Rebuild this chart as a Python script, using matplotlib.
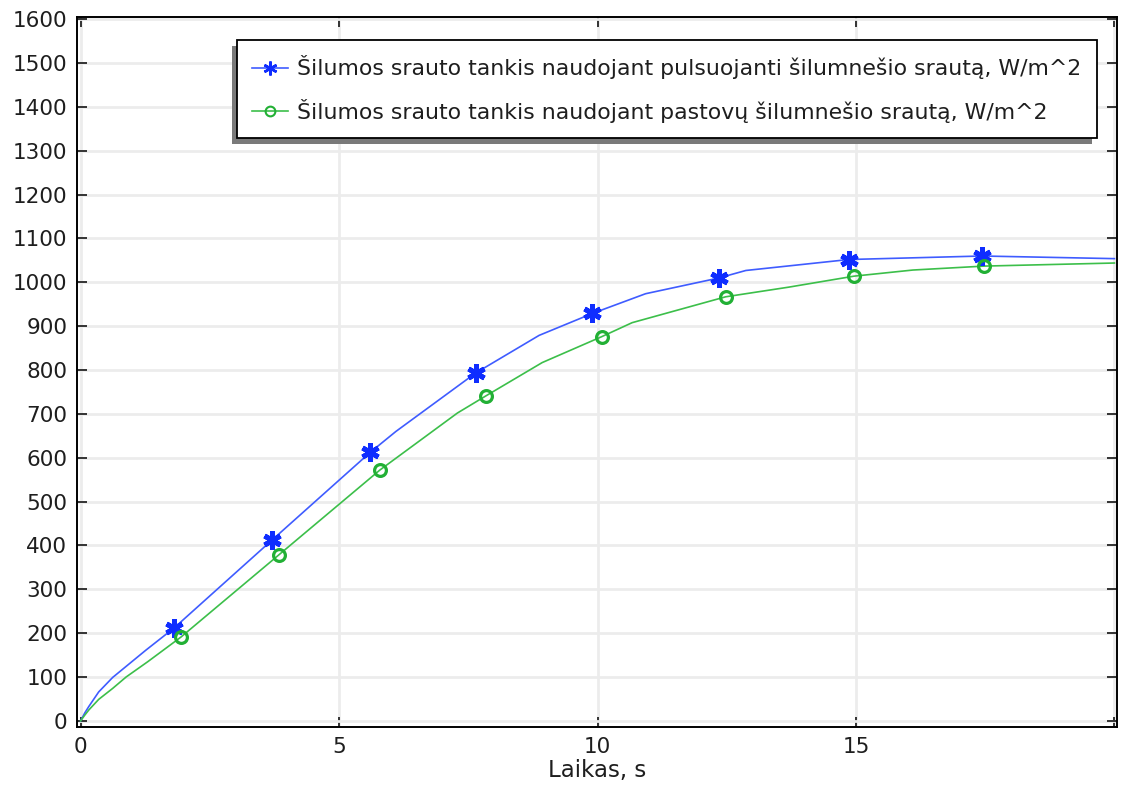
import matplotlib
matplotlib.use("Agg")
import matplotlib.pyplot as plt
from matplotlib.lines import Line2D
from matplotlib.patches import Rectangle
from matplotlib.transforms import IdentityTransform

# pulsating flow: line samples and marker positions
t_pulse = [0, 0.08, 0.16, 0.35, 0.62, 1.26, 1.81, 3.71, 5.6, 6.1, 7.64, 8.87,
           9.9, 10.93, 12.35, 12.87, 14.86, 17.44, 20.0]
q_pulse = [0, 18, 33, 66, 99, 161, 212, 413, 612, 660, 793, 879,
           929, 974, 1010, 1027, 1052, 1060, 1054]
t_pulse_marks = [1.81, 3.71, 5.6, 7.64, 9.9, 12.35, 14.86, 17.44]
q_pulse_marks = [212, 413, 612, 793, 929, 1010, 1052, 1060]

# constant flow
t_const = [0, 0.08, 0.16, 0.35, 0.62, 0.88, 1.3, 1.94, 3.84, 5.79, 7.29, 7.84,
           8.93, 10.08, 10.67, 12.48, 13.7, 14.96, 16.1, 17.48, 20.0]
q_const = [0, 13, 25, 49, 74, 100, 135, 191, 379, 572, 702, 741,
           817, 876, 908, 967, 989, 1014, 1028, 1037, 1044]
t_const_marks = [1.94, 3.84, 5.79, 7.84, 10.08, 12.48, 14.96, 17.48]
q_const_marks = [191, 379, 572, 741, 876, 967, 1014, 1037]

label_pulse = "Šilumos srauto tankis naudojant pulsuojanti šilumnešio srautą, W/m^2"
label_const = "Šilumos srauto tankis naudojant pastovų šilumnešio srautą, W/m^2"
x_ticks = [0, 5, 10, 15, 20]
x_tick_labels = ["0", "5", "10", "15", ""]
y_ticks = list(range(0, 1700, 100))

BLUE_LINE = "#3f5cff"
BLUE_MARK = "#0f2dff"
GREEN_LINE = "#3cbf4a"
GREEN_MARK = "#22b035"
TEXT = "#1e1e1e"

plt.rcParams["font.family"] = ["DejaVu Sans"]
plt.rcParams["font.size"] = 15.5

fig = plt.figure(figsize=(11.23, 7.91), dpi=100)
ax = fig.add_axes([77 / 1123, 1 - 727 / 791, 1040 / 1123, 710 / 791])

ax.plot(t_pulse, q_pulse, color=BLUE_LINE, lw=1.2, zorder=3)
ax.plot(t_pulse_marks, q_pulse_marks, ls="none", marker=(6, 2, 0), ms=13,
        mew=3.6, color=BLUE_MARK, zorder=4)
ax.plot(t_const, q_const, color=GREEN_LINE, lw=1.2, zorder=3)
ax.plot(t_const_marks, q_const_marks, ls="none", marker="o", ms=8.5,
        mew=2.3, mfc="none", mec=GREEN_MARK, zorder=4)

ax.set_xlim(-0.07, 20.05)
ax.set_ylim(-14, 1605)
ax.set_xticks(x_ticks)
ax.set_xticklabels(x_tick_labels)
ax.set_yticks(y_ticks)
ax.grid(True, color="#ececec", lw=2.0, zorder=0)
ax.set_axisbelow(True)
ax.tick_params(direction="in", length=7, width=1.1, top=True, right=True,
               colors="black", labelcolor=TEXT, pad=7)
for sp in ax.spines.values():
    sp.set_linewidth(1.4)
ax.set_xlabel("Laikas, s", color=TEXT, fontsize=16.5, labelpad=2)

handles = [
    Line2D([], [], color=BLUE_LINE, lw=1.2, marker=(6, 2, 0), ms=10, mew=1.8,
           mec=BLUE_MARK),
    Line2D([], [], color=GREEN_LINE, lw=1.2, marker="o", ms=7, mew=1.5,
           mfc="none", mec=GREEN_MARK),
]
leg = ax.legend(handles, [label_pulse, label_const], loc="upper right",
                bbox_to_anchor=(0.9808, 0.9676), fancybox=False, framealpha=1,
                edgecolor="black", borderpad=0.7, labelspacing=0.88,
                handlelength=1.6, handletextpad=0.45, borderaxespad=0,
                fontsize=15.8)
leg.get_frame().set_linewidth(1.3)
for txt in leg.get_texts():
    txt.set_color(TEXT)
leg.set_zorder(6)

# offset drop shadow (down-left), as in the original
fig.canvas.draw()
bb = leg.get_window_extent()
shadow = Rectangle((bb.x0 - 5, bb.y0 - 6), bb.width, bb.height,
                   transform=IdentityTransform(), facecolor="#7a7a7a",
                   edgecolor="none", zorder=5, clip_on=False)
ax.add_patch(shadow)

fig.savefig("out.png", dpi=100)
